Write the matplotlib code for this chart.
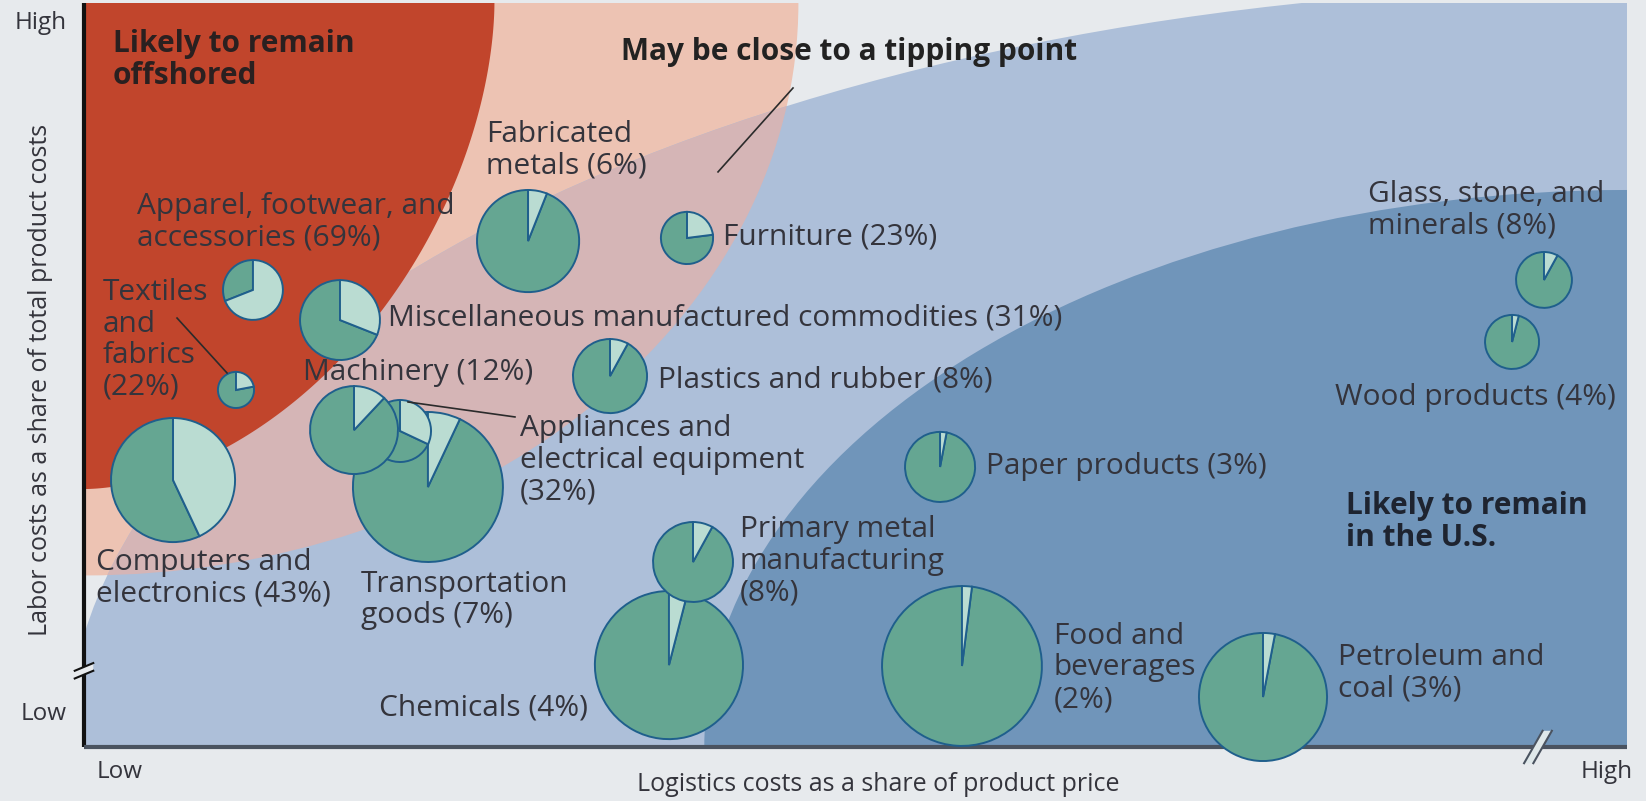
import numpy as np
import matplotlib.pyplot as plt
from matplotlib.patches import Wedge, Ellipse, Polygon

plt.rcParams['font.family'] = ['Open Sans', 'DejaVu Sans']

# ---------------------------------------------------------------------------
# data: one pie per industry (position = logistics / labor cost share,
# radius = industry size, light slice = share of imports from low-cost countries)
# ---------------------------------------------------------------------------
industries = [
    "Apparel, footwear, and\naccessories (69%)",
    "Textiles\nand\nfabrics\n(22%)",
    "Miscellaneous manufactured commodities (31%)",
    "Computers and\nelectronics (43%)",
    "Fabricated\nmetals (6%)",
    "Furniture (23%)",
    "Plastics and rubber (8%)",
    "Transportation\ngoods (7%)",
    "Appliances and\nelectrical equipment\n(32%)",
    "Machinery (12%)",
    "Chemicals (4%)",
    "Primary metal\nmanufacturing\n(8%)",
    "Paper products (3%)",
    "Food and\nbeverages\n(2%)",
    "Petroleum and\ncoal (3%)",
    "Glass, stone, and\nminerals (8%)",
    "Wood products (4%)",
]
logistics = [10.95, 9.85, 16.59, 5.77, 28.78, 39.08, 34.09, 22.29, 20.48, 17.50,
             37.91, 39.47, 55.48, 56.90, 76.41, 94.62, 92.55]
labor = [29.62, 23.14, 27.67, 17.30, 32.79, 32.99, 24.04, 16.85, 20.48, 20.54,
         5.31, 11.99, 18.15, 5.25, 3.24, 30.27, 26.25]
size = [1.94, 1.17, 2.59, 4.02, 3.31, 1.69, 2.40, 4.86, 2.01, 2.85,
        4.80, 2.59, 2.27, 5.18, 4.15, 1.81, 1.75]
share = [69, 22, 31, 43, 6, 23, 8, 7, 32, 12, 4, 8, 3, 2, 3, 8, 4]

# label anchors (left edge, vertical centre), same order as industries
label_pos = [(3.43, 34.02), (1.23, 26.38), (19.70, 27.80), (0.78, 10.95),
             (26.05, 38.69), (41.41, 33.05), (37.20, 23.78), (17.95, 9.53),
             (28.26, 18.60), (14.19, 24.24), (19.12, 2.53), (42.51, 12.05),
             (58.46, 18.21), (62.86, 5.12), (81.27, 4.80), (83.21, 34.80),
             (81.08, 22.68)]

# ---------------------------------------------------------------------------
BG = '#e7eaed'
RED = '#c1452c'
PINK = '#edc3b3'
MAUVE = '#d5b5b6'
LBLUE = '#adbfd9'
DBLUE = '#7095ba'
GREEN = '#65a692'
LIGHT = '#badcd2'
EDGE = '#1f5f8c'
TXT = '#34343c'

W, H = 1646, 801
fig = plt.figure(figsize=(W / 100, H / 100), dpi=100, facecolor=BG)
ax = fig.add_axes([84 / W, 54 / H, 1543 / W, 744 / H])
xmax = 100
ymax = xmax * 744 / 1543
ax.set_xlim(0, xmax)
ax.set_ylim(0, ymax)
ax.axis('off')
ax.set_facecolor(BG)

# --- background zones -------------------------------------------------------
pink = Ellipse((0, ymax), 2 * 46.3, 2 * 37.1, color=PINK, lw=0, zorder=1)
ax.add_patch(pink)
lblue = Ellipse((xmax, 0), 2 * 101.1, 2 * 49.3, color=LBLUE, lw=0, zorder=2)
ax.add_patch(lblue)
mauve = Ellipse((0, ymax), 2 * 46.3, 2 * 37.1, color=MAUVE, lw=0, zorder=3)
ax.add_patch(mauve)
mauve.set_clip_path(lblue)
ax.add_patch(Ellipse((xmax, 0), 2 * 59.8, 2 * 36.1, color=DBLUE, lw=0, zorder=4))

# red zone: squashed quarter super-ellipse hanging from the top-left corner
t = np.linspace(0, np.pi / 2, 200)
n = 1.8
ra, rb = 26.6, 31.5
cx = ra * np.cos(t) ** (2 / n)
cy = ymax - rb * np.sin(t) ** (2 / n)
red_pts = np.column_stack([np.r_[0, cx], np.r_[ymax, cy]])
ax.add_patch(Polygon(red_pts, closed=True, color=RED, lw=0, zorder=5))

# --- axes lines with breaks -------------------------------------------------
ax.plot([0, 0], [0, ymax], color='#111111', lw=3, zorder=6, clip_on=False,
        solid_capstyle='butt')
ax.plot([0, xmax], [0, 0], color='#4a5360', lw=3, zorder=6, clip_on=False,
        solid_capstyle='butt')

yb = 4.99
ax.fill([-0.6, 0.6, 0.6, -0.6], [yb - 0.55, yb - 0.05, yb + 0.45, yb - 0.05],
        color=BG, zorder=7, clip_on=False, lw=0)
for d in (-0.25, 0.25):
    ax.plot([-0.6, 0.6], [yb - 0.3 + d, yb + 0.2 + d], color='#111111', lw=1.5,
            zorder=8, clip_on=False)
xb = 94.23
ax.fill([xb - 0.9, xb - 0.3, xb + 0.9, xb + 0.3], [-1.05, -1.05, 1.05, 1.05],
        color='#dfe8ea', zorder=7, clip_on=False, lw=0)
for d in (-0.3, 0.3):
    ax.plot([xb - 0.6 + d, xb + 0.6 + d], [-1.05, 1.05], color='#4a5360', lw=1.5,
            zorder=8, clip_on=False)

# --- pies -------------------------------------------------------------------
for i, (x, y, r, s) in enumerate(zip(logistics, labor, size, share)):
    frac = s / 100
    z = 10 + i
    ax.add_patch(Wedge((x, y), r, 90, 450 - 360 * frac, facecolor=GREEN,
                       edgecolor=EDGE, lw=1.4, zorder=z, clip_on=False))
    ax.add_patch(Wedge((x, y), r, 90 - 360 * frac, 90, facecolor=LIGHT,
                       edgecolor=EDGE, lw=1.4, zorder=z, clip_on=False))

for name, (lx, ly) in zip(industries, label_pos):
    ax.text(lx, ly, name, fontsize=21.5, color=TXT, ha='left', va='center',
            linespacing=1.12, zorder=40)

# leader lines
ax.plot([6.03, 9.27], [27.80, 24.24], color='#2b2b2b', lw=1.2, zorder=41)
ax.plot([21.00, 27.93], [22.36, 21.39], color='#2b2b2b', lw=1.2, zorder=41)
ax.plot([45.95, 41.09], [42.71, 37.27], color='#2b2b2b', lw=1.2, zorder=41)

# zone headings
ax.text(1.88, 44.52, "Likely to remain\noffshored", fontsize=21.5, fontweight='bold',
        color='#2a2020', ha='left', va='center', linespacing=1.12, zorder=40)
ax.text(34.80, 45.04, "May be close to a tipping point", fontsize=21.5,
        fontweight='bold', color='#222222', ha='left', va='center', zorder=40)
ax.text(81.79, 14.58, "Likely to remain\nin the U.S.", fontsize=21.5,
        fontweight='bold', color='#1e2430', ha='left', va='center',
        linespacing=1.12, zorder=40)

# --- axis annotations -------------------------------------------------------
ax.text(-1.10, 46.92, "High", fontsize=17.5, color=TXT, ha='right', va='center',
        clip_on=False)
ax.text(-1.10, 2.14, "Low", fontsize=17.5, color=TXT, ha='right', va='center',
        clip_on=False)
ax.text(0.84, -1.62, "Low", fontsize=17.5, color=TXT, ha='left', va='center',
        clip_on=False)
ax.text(100.4, -1.62, "High", fontsize=17.5, color=TXT, ha='right', va='center',
        clip_on=False)
ax.text(-2.85, 23.78, "Labor costs as a share of total product costs", fontsize=18,
        color=TXT, rotation=90, ha='center', va='center', clip_on=False)
ax.text(51.46, -2.46, "Logistics costs as a share of product price", fontsize=18,
        color=TXT, ha='center', va='center', clip_on=False)

fig.savefig('out.png', dpi=100, facecolor=BG)
